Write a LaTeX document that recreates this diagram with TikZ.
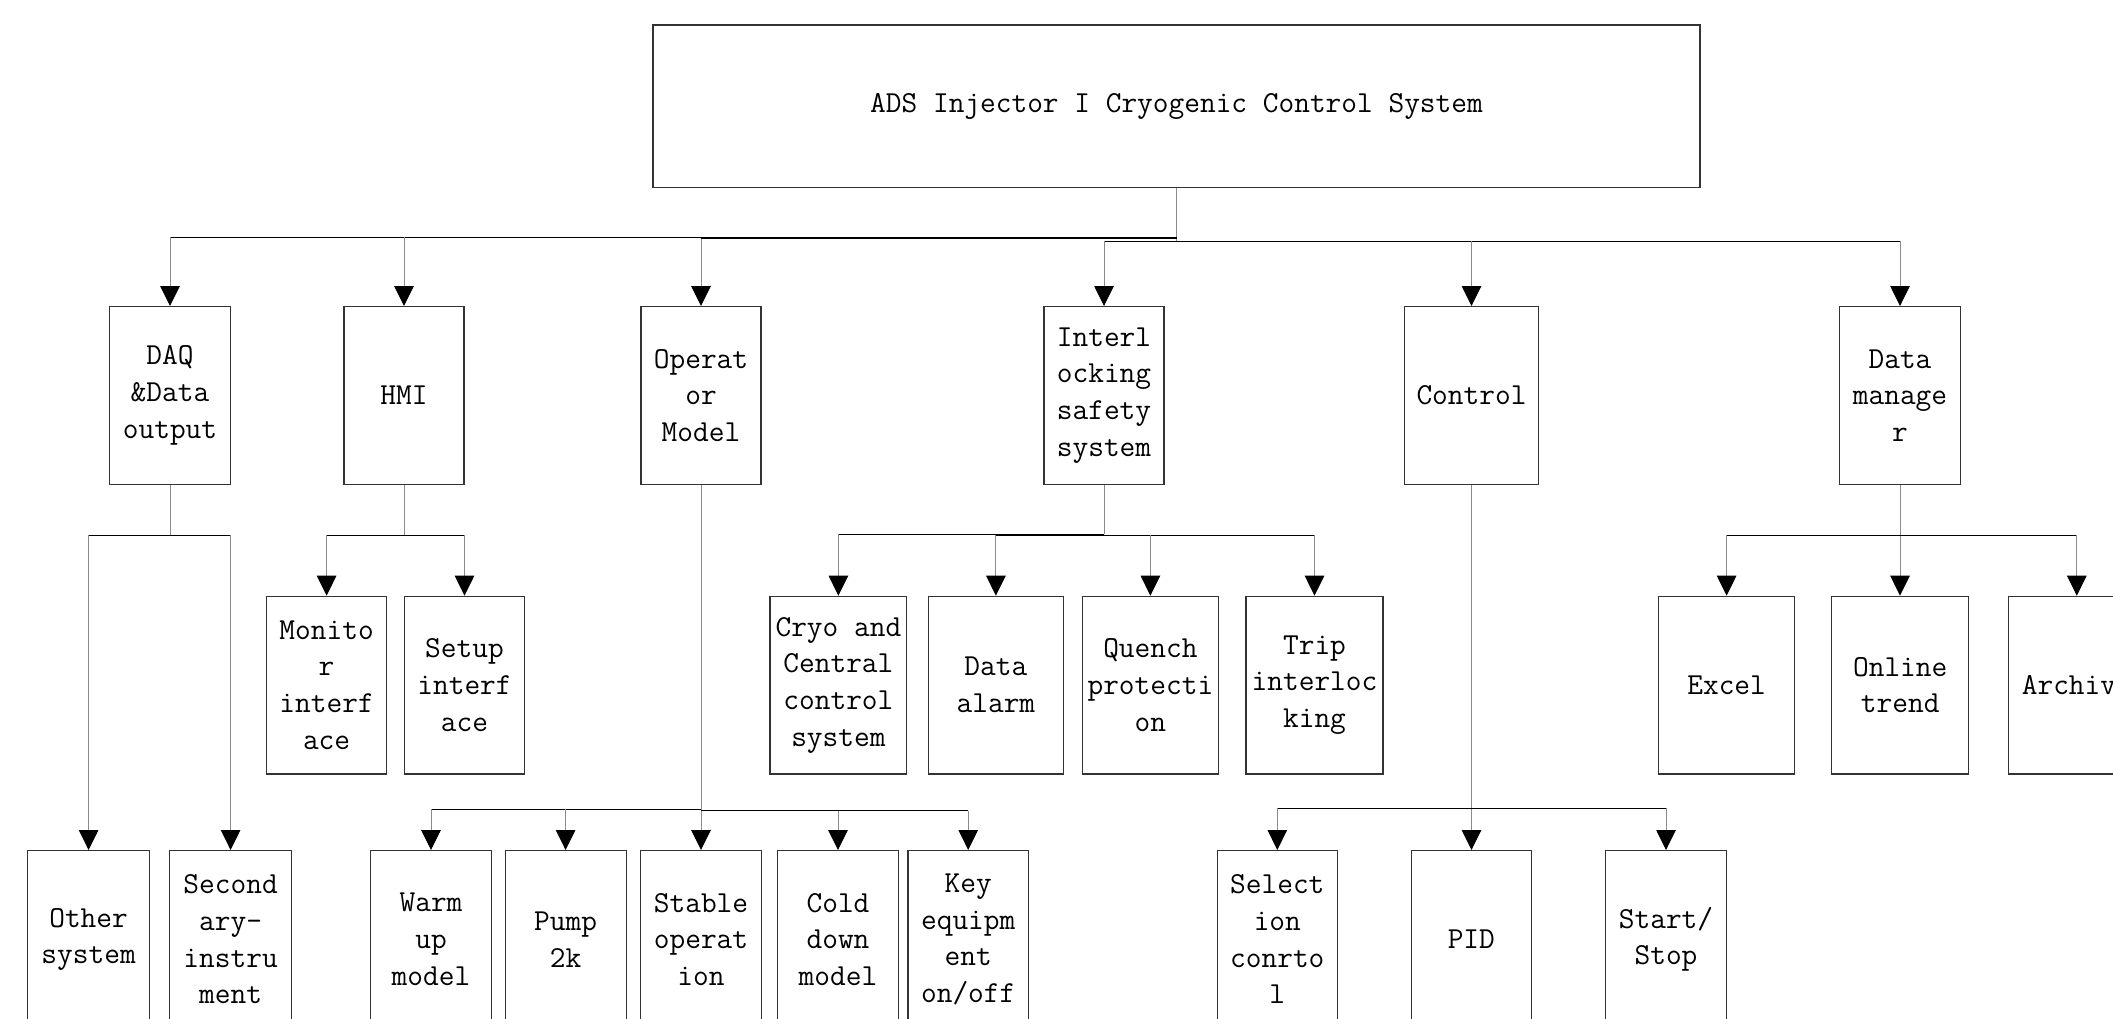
\documentclass[tikz,border=0pt]{standalone}
\usepackage{fontspec}
\usetikzlibrary{arrows.meta}
\definecolor{edgecol}{HTML}{333333}
\definecolor{stemcol}{HTML}{8A8A8A}
\newcommand{\boxfont}{\ttfamily\addfontfeatures{FakeStretch=0.95}}
\begin{document}
\begin{tikzpicture}[x=1pt,y=-1pt,
  box/.style={draw=edgecol,line width=1.2pt,rectangle,inner sep=0pt,anchor=north,
    align=center,minimum height=177.6pt,font=\boxfont\fontsize{30.5}{36.7}\selectfont},
  hl/.style={draw=black,line width=1pt},
  vl/.style={draw=stemcol,line width=1pt},
  arr/.style={vl,-{Triangle[length=20pt,width=19.5pt,color=black]}}]
\useasboundingbox (0,0) rectangle (2113,1018);
\fill[white] (0,0) rectangle (2113,1018);
\clip (0,0) rectangle (2113,1018);

% root
\node[box,minimum width=1047pt,minimum height=162.7pt] (root) at (1176.5,24.3) {ADS Injector I Cryogenic Control System};

% level 1
\node[box,minimum width=121pt] (daq) at (170,306) {DAQ\\\&Data\\output};
\node[box,minimum width=120pt] (hmi) at (404,306) {HMI};
\node[box,minimum width=120pt] (op) at (701,306) {Operat\\or\\Model};
\node[box,minimum width=120pt] (il) at (1104,306) {Interl\\ocking\\safety\\system};
\node[box,minimum width=134pt] (ctl) at (1471.5,306) {Control};
\node[box,minimum width=121pt] (dm) at (1900,306) {Data\\manage\\r};

% level 2
\node[box,minimum width=120pt] (mon) at (326.6,595.7) {Monito\\r\\interf\\ace};
\node[box,minimum width=120.5pt] (setup) at (464.5,595.7) {Setup\\interf\\ace};
\node[box,minimum width=136.7pt] (cryo) at (838.4,595.7) {Cryo and\\Central\\control\\system};
\node[box,minimum width=135pt] (alarm) at (995.9,595.7) {Data\\alarm};
\node[box,minimum width=136.3pt] (quench) at (1150.4,595.7) {Quench\\protecti\\on};
\node[box,minimum width=137pt] (trip) at (1314.5,595.7) {Trip\\interloc\\king};
\node[box,minimum width=136.3pt] (excel) at (1726.6,595.7) {Excel};
\node[box,minimum width=137pt] (online) at (1900.2,595.7) {Online\\trend};
\node[box,minimum width=137pt] (archive) at (2076.8,595.7) {Archive};

% level 3
\node[box,minimum width=121.7pt] (other) at (88.6,850) {Other\\system};
\node[box,minimum width=121.7pt] (sec) at (230.6,850) {Second\\ary-\\instru\\ment};
\node[box,minimum width=121pt] (warm) at (431,850) {Warm\\up\\model};
\node[box,minimum width=121pt] (pump) at (565.6,850) {Pump\\2k};
\node[box,minimum width=120.4pt] (stable) at (701,850) {Stable\\operat\\ion};
\node[box,minimum width=121pt] (cold) at (838,850) {Cold\\down\\model};
\node[box,minimum width=120.4pt] (key) at (968.2,850) {Key\\equipm\\ent\\on/off};
\node[box,minimum width=120.2pt] (sel) at (1277.3,850) {Select\\ion\\conrto\\l};
\node[box,minimum width=120.3pt] (pid) at (1471.3,850) {PID};
\node[box,minimum width=121.6pt] (start) at (1666,850) {Start/\\Stop};

% top buses
\coordinate (bA) at (0,237.3);
\coordinate (bB) at (0,238.7);
\coordinate (bC) at (0,241);
\draw[vl] (root.south) -- (root.south |- bC);
\draw[hl] (daq.north |- bA) -- (root.south |- bA);
\draw[hl] (op.north |- bB) -- (root.south |- bB);
\draw[hl] (il.north |- bC) -- (dm.north |- bC);
\foreach \n/\b in {daq/bA,hmi/bA,op/bB,il/bC,ctl/bC,dm/bC}
  \draw[arr] (\n.north |- \b) -- (\n.north);

% second-level buses
\coordinate (d2) at (0,535);
\coordinate (i1) at (0,534.3);
\coordinate (i2) at (0,535.3);
% DAQ
\draw[vl] (daq.south) -- (daq.south |- d2);
\draw[hl] (other.north |- d2) -- (sec.north |- d2);
\draw[arr] (other.north |- d2) -- (other.north);
\draw[arr] (sec.north |- d2) -- (sec.north);
% HMI
\draw[vl] (hmi.south) -- (hmi.south |- d2);
\draw[hl] (mon.north |- d2) -- (setup.north |- d2);
\draw[arr] (mon.north |- d2) -- (mon.north);
\draw[arr] (setup.north |- d2) -- (setup.north);
% Interlocking
\draw[vl] (il.south) -- (il.south |- i1);
\draw[hl] (cryo.north |- i1) -- (il.south |- i1);
\draw[hl] (alarm.north |- i2) -- (trip.north |- i2);
\draw[arr] (cryo.north |- i1) -- (cryo.north);
\foreach \n in {alarm,quench,trip}
  \draw[arr] (\n.north |- i2) -- (\n.north);
% Data manager
\draw[arr] (dm.south) -- (dm.south |- online.north);
\draw[hl] (excel.north |- i2) -- (archive.north |- i2);
\draw[arr] (excel.north |- i2) -- (excel.north);
\draw[arr] (archive.north |- i2) -- (archive.north);

% third-level buses
\coordinate (o1) at (0,809.3);
\coordinate (o2) at (0,810.7);
\coordinate (c1) at (0,808.3);
% Operator
\draw[arr] (op.south) -- (op.south |- stable.north);
\draw[hl] (warm.north |- o1) -- (op.south |- o1);
\draw[hl] (op.south |- o2) -- (key.north |- o2);
\draw[arr] (warm.north |- o1) -- (warm.north);
\draw[arr] (pump.north |- o1) -- (pump.north);
\draw[arr] (cold.north |- o2) -- (cold.north);
\draw[arr] (key.north |- o2) -- (key.north);
% Control
\draw[arr] (ctl.south) -- (ctl.south |- pid.north);
\draw[hl] (sel.north |- c1) -- (start.north |- c1);
\draw[arr] (sel.north |- c1) -- (sel.north);
\draw[arr] (start.north |- c1) -- (start.north);
\end{tikzpicture}
\end{document}
